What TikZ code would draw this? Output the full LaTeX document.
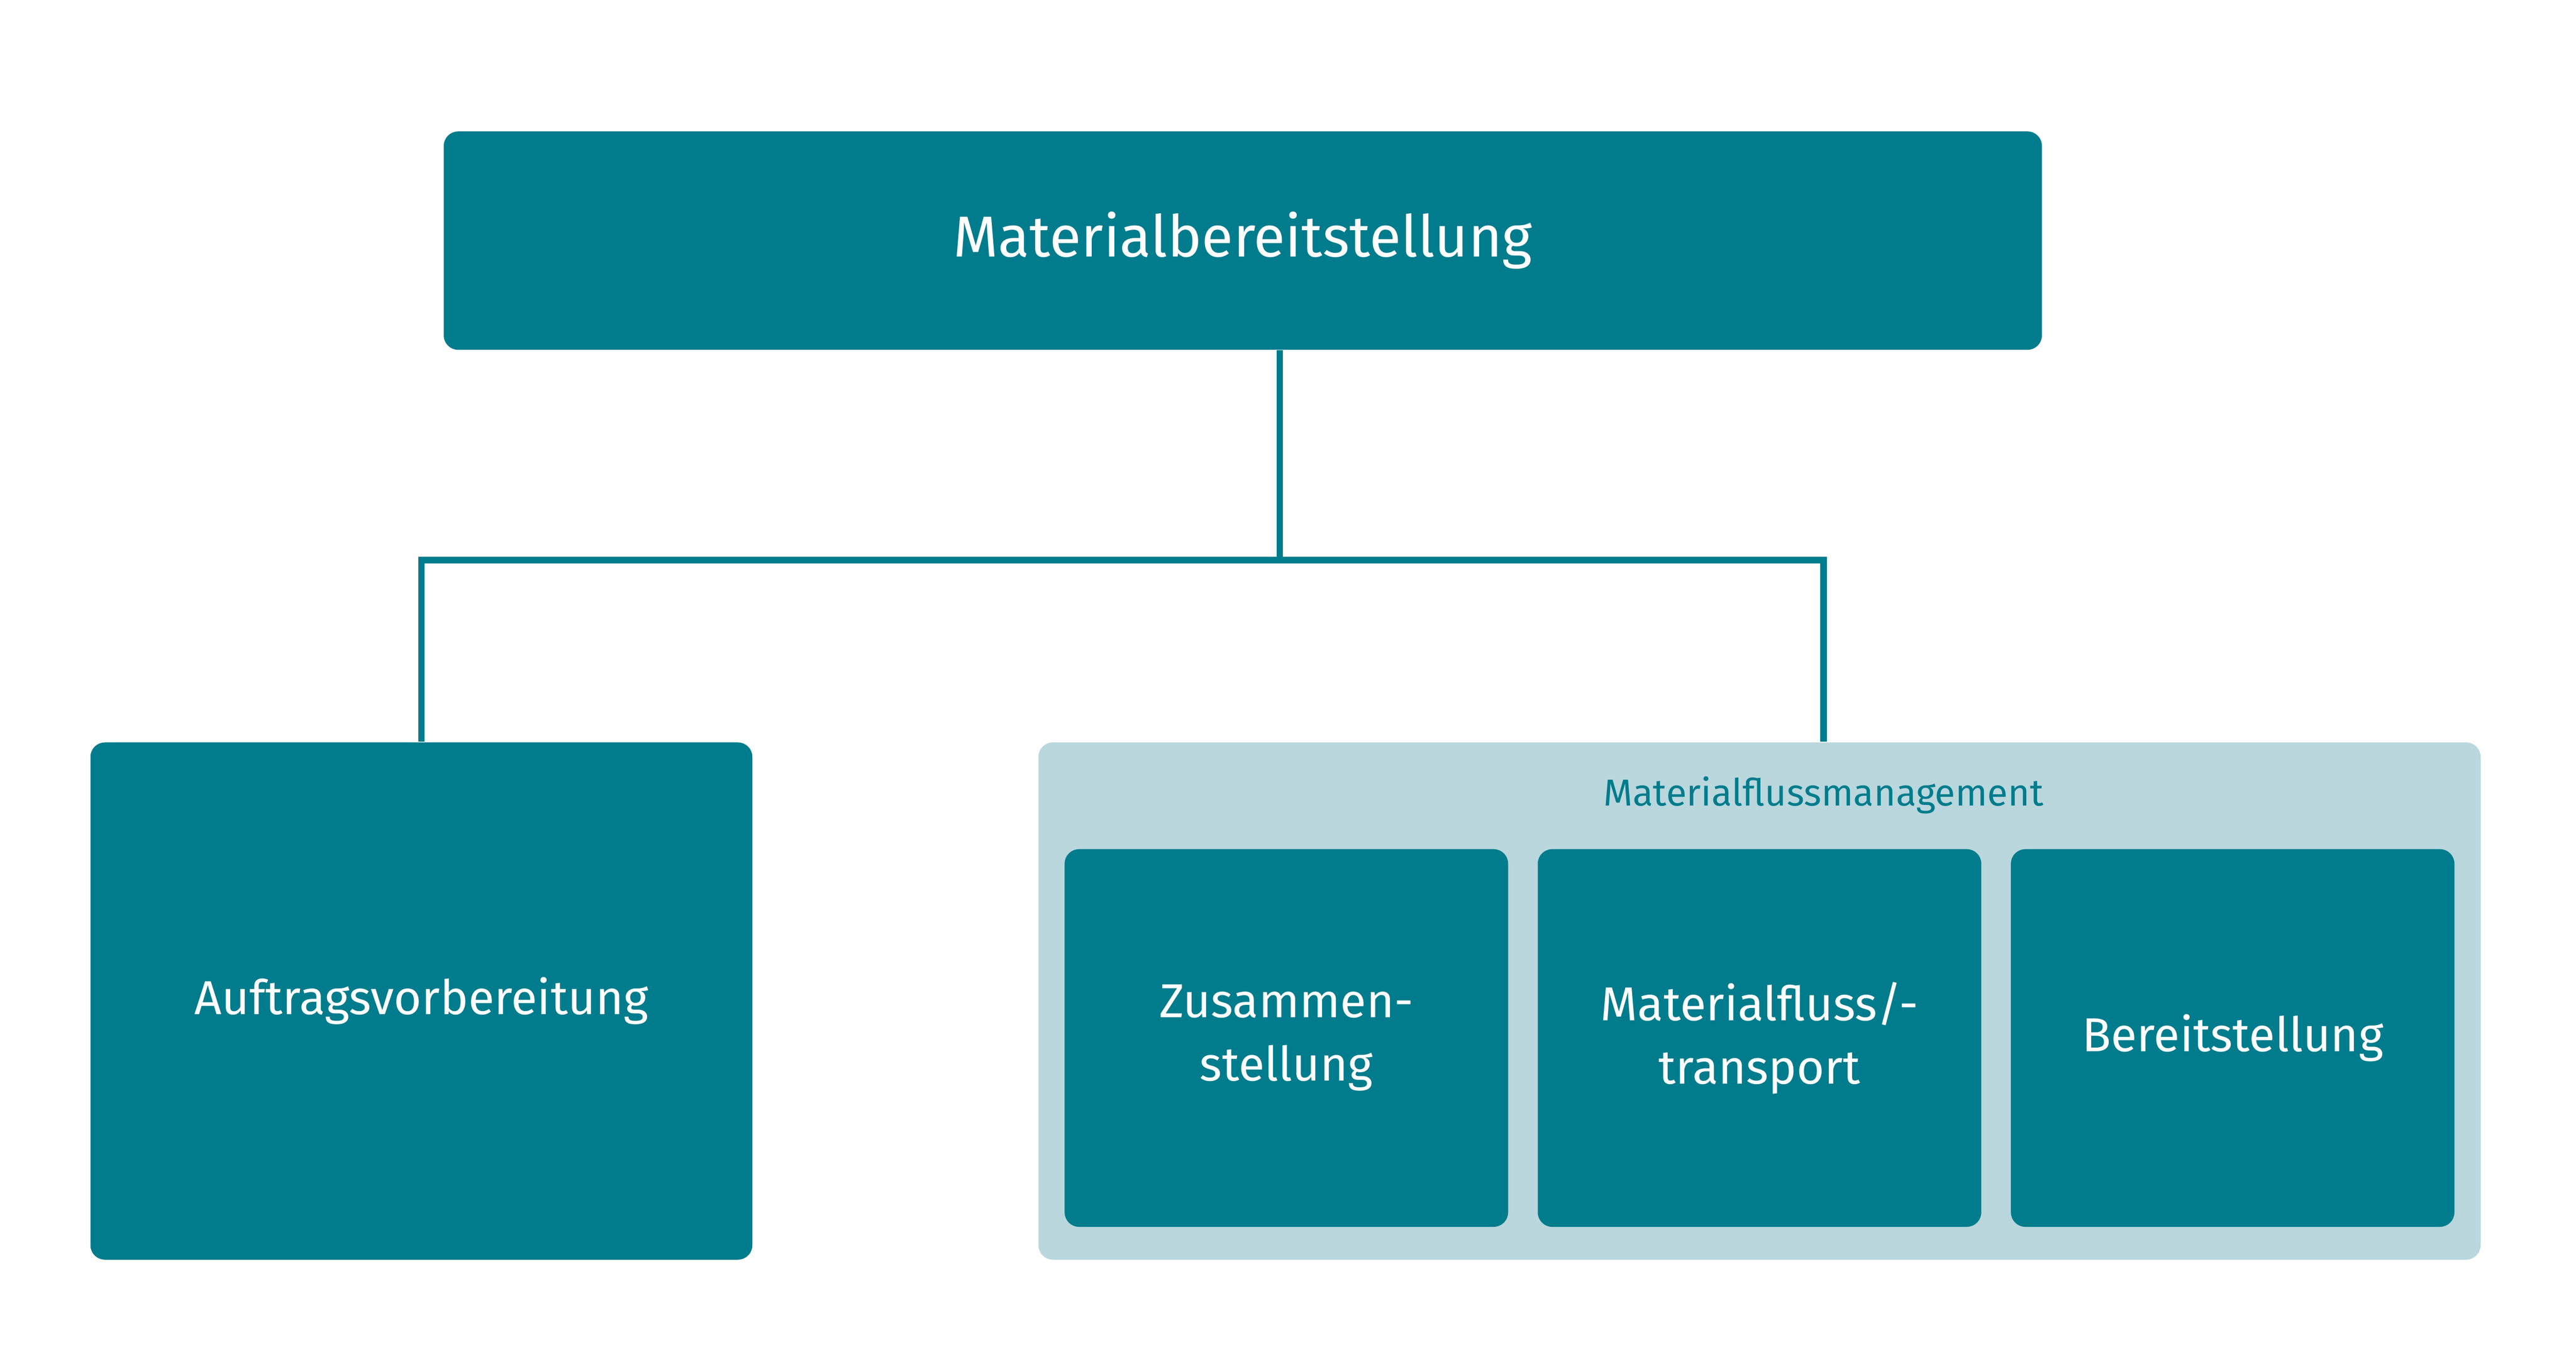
\documentclass[tikz,border=0pt]{standalone}
\usepackage{fontspec}
\setmainfont{Fira Sans}
\definecolor{teal1}{HTML}{007C8C}
\definecolor{tealbg}{HTML}{B9D7DD}
\begin{document}
\begin{tikzpicture}[
    x=0.02cm, y=-0.02cm,
    tbox/.style={rectangle, fill=teal1, rounded corners=5pt, text=white,
                 align=center, inner sep=0pt},
    grp/.style={rectangle, fill=tealbg, rounded corners=5pt, inner sep=0pt},
    conn/.style={draw=teal1, line width=2.2pt},
  ]
  \useasboundingbox (0,0) rectangle (1568,823);

  % --- top ---
  \node[tbox, minimum width=19.46cm, minimum height=2.66cm, font=\fontsize{20}{24}\selectfont]
    (top) at (756.5,146.5) {Materialbereitstellung};

  % --- second level ---
  \node[tbox, minimum width=8.06cm, minimum height=6.3cm, font=\fontsize{16.5}{20}\selectfont]
    (auf) at (256.5,609.5) {Auftragsvorbereitung};
  \node[grp, minimum width=17.56cm, minimum height=6.3cm] (mfm) at (1071,609.5) {};
  \node[text=teal1, font=\fontsize{13}{16}\selectfont] (mfmlbl) at (1110,484) {Materialflussmanagement};

  % --- group members ---
  \node[tbox, minimum width=5.4cm, minimum height=4.6cm, font=\fontsize{16.5}{22}\selectfont]
    (zus) at (783,632) {Zusammen-\\stellung};
  \node[tbox, minimum width=5.4cm, minimum height=4.6cm, font=\fontsize{16.5}{22}\selectfont]
    (trn) at (1071,632) {Materialfluss/-\\transport};
  \node[tbox, minimum width=5.4cm, minimum height=4.6cm, font=\fontsize{16.5}{22}\selectfont]
    (ber) at (1359,632) {Bereitstellung};

  % --- connectors ---
  \coordinate (mid) at (779,341);
  \draw[conn] (top.south -| mid) -- (mid);
  \draw[conn] (mid) -| (auf.north);
  \draw[conn] (mid) -| (mfm.north -| mfmlbl);
\end{tikzpicture}
\end{document}
